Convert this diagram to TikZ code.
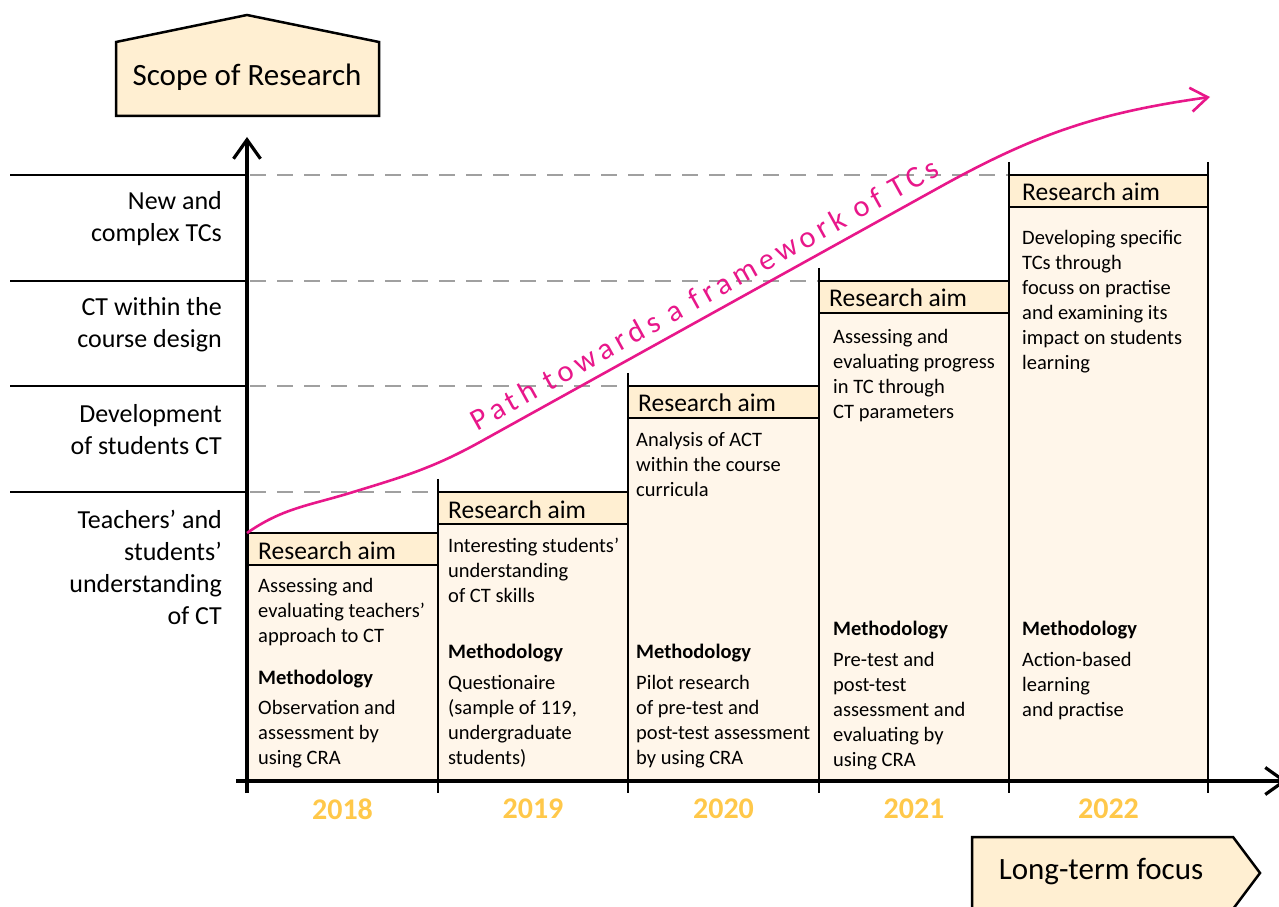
\documentclass[tikz,border=0pt]{standalone}
\usepackage{fontspec}
\setmainfont{Carlito}
\usepackage{xcolor}
\usepackage{tikz}
\usetikzlibrary{positioning,calc,arrows.meta}

\definecolor{aimfill}{HTML}{FFEFD2}
\definecolor{bodyfill}{HTML}{FFF6EA}
\definecolor{yearcol}{HTML}{FFC84A}
\definecolor{pathcol}{HTML}{E8178A}
\definecolor{guidegray}{HTML}{A0A0A0}

\begin{document}
\begin{tikzpicture}[x=1pt,y=1pt]
			\tikzset{
				boxline/.style={draw=black,line width=2.5pt},
				colline/.style={line width=2.8pt},
				axisline/.style={line width=3.2pt,-{Straight Barb[length=19pt,width=27pt]}},
				levelline/.style={line width=2.5pt},
				guideline/.style={guidegray,line width=2.5pt,dash pattern=on 16pt off 11pt},
				tagbox/.style={draw=black,line width=2.5pt,fill=aimfill},
				taglabel/.style={inner sep=0pt,font=\fontsize{31}{37}\selectfont},
				aimlabel/.style={anchor=base west,inner sep=0pt,font=\fontsize{25.5}{30}\selectfont},
				bodytext/.style={anchor=north west,inner sep=0pt,align=left,font=\fontsize{20.5}{25}\selectfont},
				methtitle/.style={anchor=north west,inner sep=0pt,font=\fontsize{20.5}{25}\selectfont\bfseries},
				levellabel/.style={anchor=east,align=right,inner sep=0pt,font=\fontsize{26}{32}\selectfont},
				yearlabel/.style={inner sep=0pt,text=yearcol,font=\fontsize{30}{36}\selectfont\bfseries},
				pathline/.style={pathcol,line width=2.6pt,-{Straight Barb[length=17pt,width=24pt]}},
				pathlabel/.style={text=pathcol,inner sep=0pt,font=\fontsize{30.5}{36}\selectfont\addfontfeature{LetterSpace=16}},
			}
			\useasboundingbox (0,0) rectangle (1279,906);

			\filldraw[boxline,fill=aimfill] (247,373) rectangle (438,341);
			\filldraw[boxline,fill=bodyfill] (247,341) rectangle (438,125);
			\filldraw[boxline,fill=aimfill] (438,414) rectangle (628,382);
			\filldraw[boxline,fill=bodyfill] (438,382) rectangle (628,125);
			\filldraw[boxline,fill=aimfill] (628,520) rectangle (819,488);
			\filldraw[boxline,fill=bodyfill] (628,488) rectangle (819,125);
			\filldraw[boxline,fill=aimfill] (819,625) rectangle (1009,593);
			\filldraw[boxline,fill=bodyfill] (819,593) rectangle (1009,125);
			\filldraw[boxline,fill=aimfill] (1009,731) rectangle (1208,699);
			\filldraw[boxline,fill=bodyfill] (1009,699) rectangle (1208,125);

			\draw[guideline] (250,731) -- (1009,731);
			\draw[guideline] (250,625) -- (819,625);
			\draw[guideline] (250,520) -- (628,520);
			\draw[guideline] (250,414) -- (438,414);

			\draw[levelline] (10,731) -- (247,731);
			\draw[levelline] (10,625) -- (247,625);
			\draw[levelline] (10,520) -- (247,520);
			\draw[levelline] (10,414) -- (247,414);

			\draw[colline] (438,427) -- (438,113);
			\draw[colline] (628,533) -- (628,113);
			\draw[colline] (819,638) -- (819,113);
			\draw[colline] (1009,744) -- (1009,113);
			\draw[colline] (1208,744) -- (1208,113);

			\draw[axisline] (247,113) -- (247,769);
			\draw[axisline] (236,125) -- (1287,125);

			\filldraw[tagbox] (116,790) -- (116,864) -- (247,891) -- (379,864) -- (379,790) -- cycle;
			\node[taglabel] (scope) at (247,829) {Scope of Research};
			\filldraw[tagbox] (972,-3) -- (972,69) -- (1233,69) -- (1260,33) -- (1233,-3) -- cycle;
			\node[taglabel] (focus) at (1101,34) {Long-term focus};

			\node[levellabel] (lvl4) at (222,687.5) {New and\\complex TCs};
			\node[levellabel] (lvl3) at (222,581.5) {CT within the\\course design};
			\node[levellabel] (lvl2) at (222,476.5) {Development\\of students CT};
			\node[levellabel] (lvl1) at (222,338.5) {Teachers’ and\\students’\\understanding\\of CT};

			\node[aimlabel] (aim18) at (258,347) {Research aim};
			\node[bodytext] (goal18) at (258,327.5) {Assessing and\\evaluating teachers’\\approach to CT};
			\node[methtitle] (meth18) at (258,236.5) {Methodology};
			\node[bodytext] (how18) at (258,205.5) {Observation and\\assessment by\\using CRA};

			\node[aimlabel] (aim19) at (448,388) {Research aim};
			\node[bodytext] (goal19) at (448,368.5) {Interesting students’\\understanding\\of CT skills};
			\node[methtitle] (meth19) at (448,262.5) {Methodology};
			\node[bodytext] (how19) at (448,230.5) {Questionaire\\(sample of 119,\\undergraduate\\students)};

			\node[aimlabel] (aim20) at (638,494) {Research aim};
			\node[bodytext] (goal20) at (636,473.5) {Analysis of ACT\\within the course\\curricula};
			\node[methtitle] (meth20) at (636,262.5) {Methodology};
			\node[bodytext] (how20) at (636,230.5) {Pilot research\\of pre-test and\\post-test assessment\\by using CRA};

			\node[aimlabel] (aim21) at (829,599) {Research aim};
			\node[bodytext] (goal21) at (833,576.5) {Assessing and\\evaluating progress\\in TC through\\CT parameters};
			\node[methtitle] (meth21) at (833,285.5) {Methodology};
			\node[bodytext] (how21) at (833,253.5) {Pre-test and\\post-test\\assessment and\\evaluating by\\using CRA};

			\node[aimlabel] (aim22) at (1022,705) {Research aim};
			\node[bodytext] (goal22) at (1022,675.5) {Developing specific\\TCs through\\focuss on practise\\and examining its\\impact on students\\learning};
			\node[methtitle] (meth22) at (1022,285.5) {Methodology};
			\node[bodytext] (how22) at (1022,253.5) {Action-based\\learning\\and practise};

			\node[yearlabel] (y18) at (342.5,97) {2018};
			\node[yearlabel] (y19) at (533,97) {2019};
			\node[yearlabel] (y20) at (723.5,97) {2020};
			\node[yearlabel] (y21) at (914,97) {2021};
			\node[yearlabel] (y22) at (1108.5,97) {2022};

			\coordinate (pathstart) at (247,373);
			\coordinate (pathend) at (1210,809);
			\draw[pathline]
			(pathstart) to[out=35,in=197] (350,413) to[out=17,in=209] (480,464)
			-- node[pos=.51,sloped,above=9pt,pathlabel] (pathtext) {Path towards a framework of TCs} (940,719)
			to[out=29,in=188] (pathend);
		\end{tikzpicture}
\end{document}
